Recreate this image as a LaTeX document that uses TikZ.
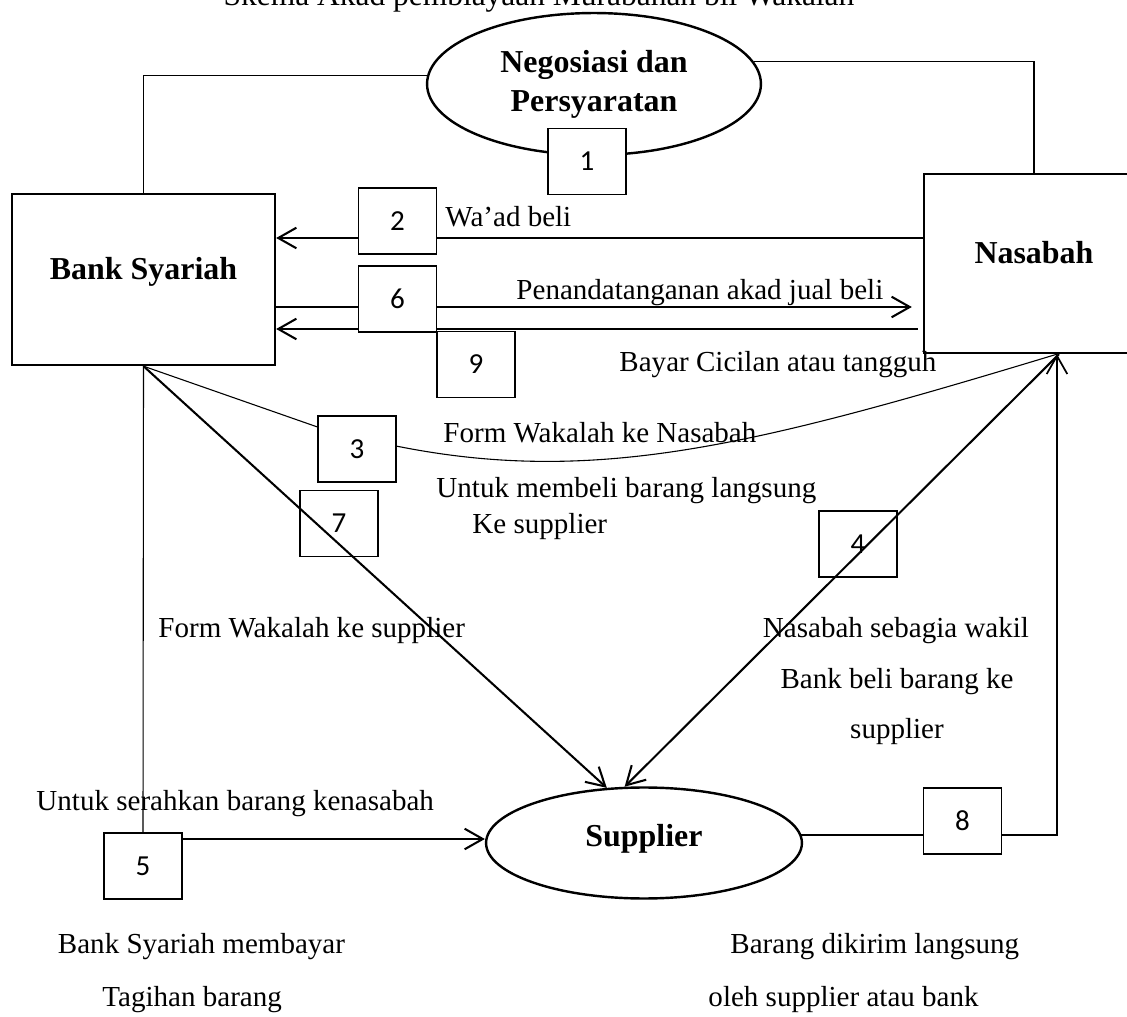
\documentclass[tikz,border=0pt]{standalone}
\usepackage{fontspec}
\setmainfont{Liberation Serif}
\newfontfamily\numfont{Carlito}
\usetikzlibrary{arrows.meta,positioning,shapes.geometric,calc,backgrounds}

\begin{document}
\begin{tikzpicture}[x=0.01452cm, y=-0.01452cm,
  entity/.style={draw, line width=1pt, inner sep=0pt, align=center, font=\fontsize{13.2}{16.1}\selectfont\bfseries},
  numbox/.style={draw, line width=0.8pt, fill=white, minimum width=1.133cm, minimum height=0.958cm, inner sep=0pt, font=\numfont\fontsize{12}{14}\selectfont},
  lbl/.style={anchor=base west, inner sep=0pt, font=\fontsize{12}{14}\selectfont},
  lblc/.style={anchor=base, inner sep=0pt, font=\fontsize{12}{14}\selectfont},
  arr/.style={-{Straight Barb[length=7.5pt,width=8.5pt]}, line width=0.85pt},
  thinline/.style={line width=0.45pt},
]
  \useasboundingbox (0,0) rectangle (1127,1017);

  % title, cut at the top edge
  \node[anchor=base, inner sep=0pt, font=\fontsize{13}{15}\selectfont] (title) at (539,6) {Skema Akad pembiayaan Murabahah bil Wakalah};

  % parties
  \node[entity, ellipse, minimum width=4.85cm, minimum height=2.062cm] (nego) at (594,84) {Negosiasi dan\\Persyaratan};
  \node[entity, minimum width=3.819cm, minimum height=2.483cm, text height=9pt, text depth=9pt] (bank) at (143.5,279.5) {Bank Syariah};
  \node[entity, minimum width=3.194cm, minimum height=2.599cm, text height=9pt, text depth=9pt] (nasabah) at (1034,263.5) {Nasabah};
  \node[entity, ellipse, minimum width=4.588cm, minimum height=1.612cm, text height=9pt, text depth=6.5pt] (supplier) at (644,843) {Supplier};

  % step numbers
  \node[numbox] (s1) at (587,161.5) {1};
  \node[numbox] (s2) at (397.5,221) {2};
  \node[numbox] (s3) at (357,449) {3};
  \node[numbox, fill=none] (s4) at (858,544) {4};
  \node[numbox] (s5) at (143,866) {5};
  \node[numbox] (s6) at (397.5,299) {6};
  \node[numbox, fill=none] (s7) at (339,523.5) {7};
  \node[numbox] (s8) at (962.5,821) {8};
  \node[numbox] (s9) at (476,364.5) {9};

  \coordinate (a2) at ($(nasabah.west)+(0,-25.5)$);
  \coordinate (a6) at ($(bank.east)+(0,27.5)$);
  \coordinate (a9) at ($(nasabah.west)+(-5,65.5)$);
  \coordinate (a5) at ($(s5.east)+(0,-27)$);
  \coordinate (tipN) at ($(nasabah.south)+(23,0)$);

  % links
  \begin{scope}[on background layer]
  \draw[thinline] (bank.north) |- (nego.177);
  \draw[thinline] (nego.8) -| (nasabah.north);
  \draw[arr] (a2) -- (a2 -| bank.east);
  \draw[arr] (a6) -- ($(a6 -| nasabah.west)+(-11,0)$);
  \draw[arr] (a9) -- (a9 -| bank.east);
  \draw[thinline] (bank.south) -- (s3.151);
  \draw[thinline] (s3.4) .. controls (596,486) and (757,445) .. (tipN);
  \draw[arr] (bank.south) -- (supplier.124);
  \draw[arr] ($(nasabah.south)+(25,0)$) -- (supplier.109);
  \draw[thinline] (bank.south) -- (s5.north);
  \draw[arr] (a5) -- (a5 -| supplier.west);
  \draw[arr, line width=0.7pt] (supplier.3) -| (tipN);
  \end{scope}

  % texts
  \node[lbl] (wad) at (445,227) {Wa’ad beli};
  \node[lbl] (akad) at (516,300) {Penandatanganan akad jual beli};
  \node[lbl] (bayar) at (619,372) {Bayar Cicilan atau tangguh};
  \node[lbl] (formN) at (443,443) {Form Wakalah ke Nasabah};
  \node[lbl] (untuk1) at (436,498) {Untuk membeli barang langsung};
  \node[lbl] (untuk2) at (472,533) {Ke supplier};
  \node[lbl] (formS) at (158,638) {Form Wakalah ke supplier};
  \node[lblc] (wakil1) at (896,638) {Nasabah sebagia wakil};
  \node[lblc] (wakil2) at (897,688) {Bank beli barang ke};
  \node[lblc] (wakil3) at (897,739) {supplier};
  \node[lbl] (serah) at (36,810) {Untuk serahkan barang kenasabah};
  \node[lbl] (bayar1) at (57.5,953) {Bank Syariah membayar};
  \node[lbl] (bayar2) at (102,1006) {Tagihan barang};
  \node[lbl] (kirim1) at (730,953) {Barang dikirim langsung};
  \node[lbl] (kirim2) at (708,1006) {oleh supplier atau bank};
\end{tikzpicture}
\end{document}
